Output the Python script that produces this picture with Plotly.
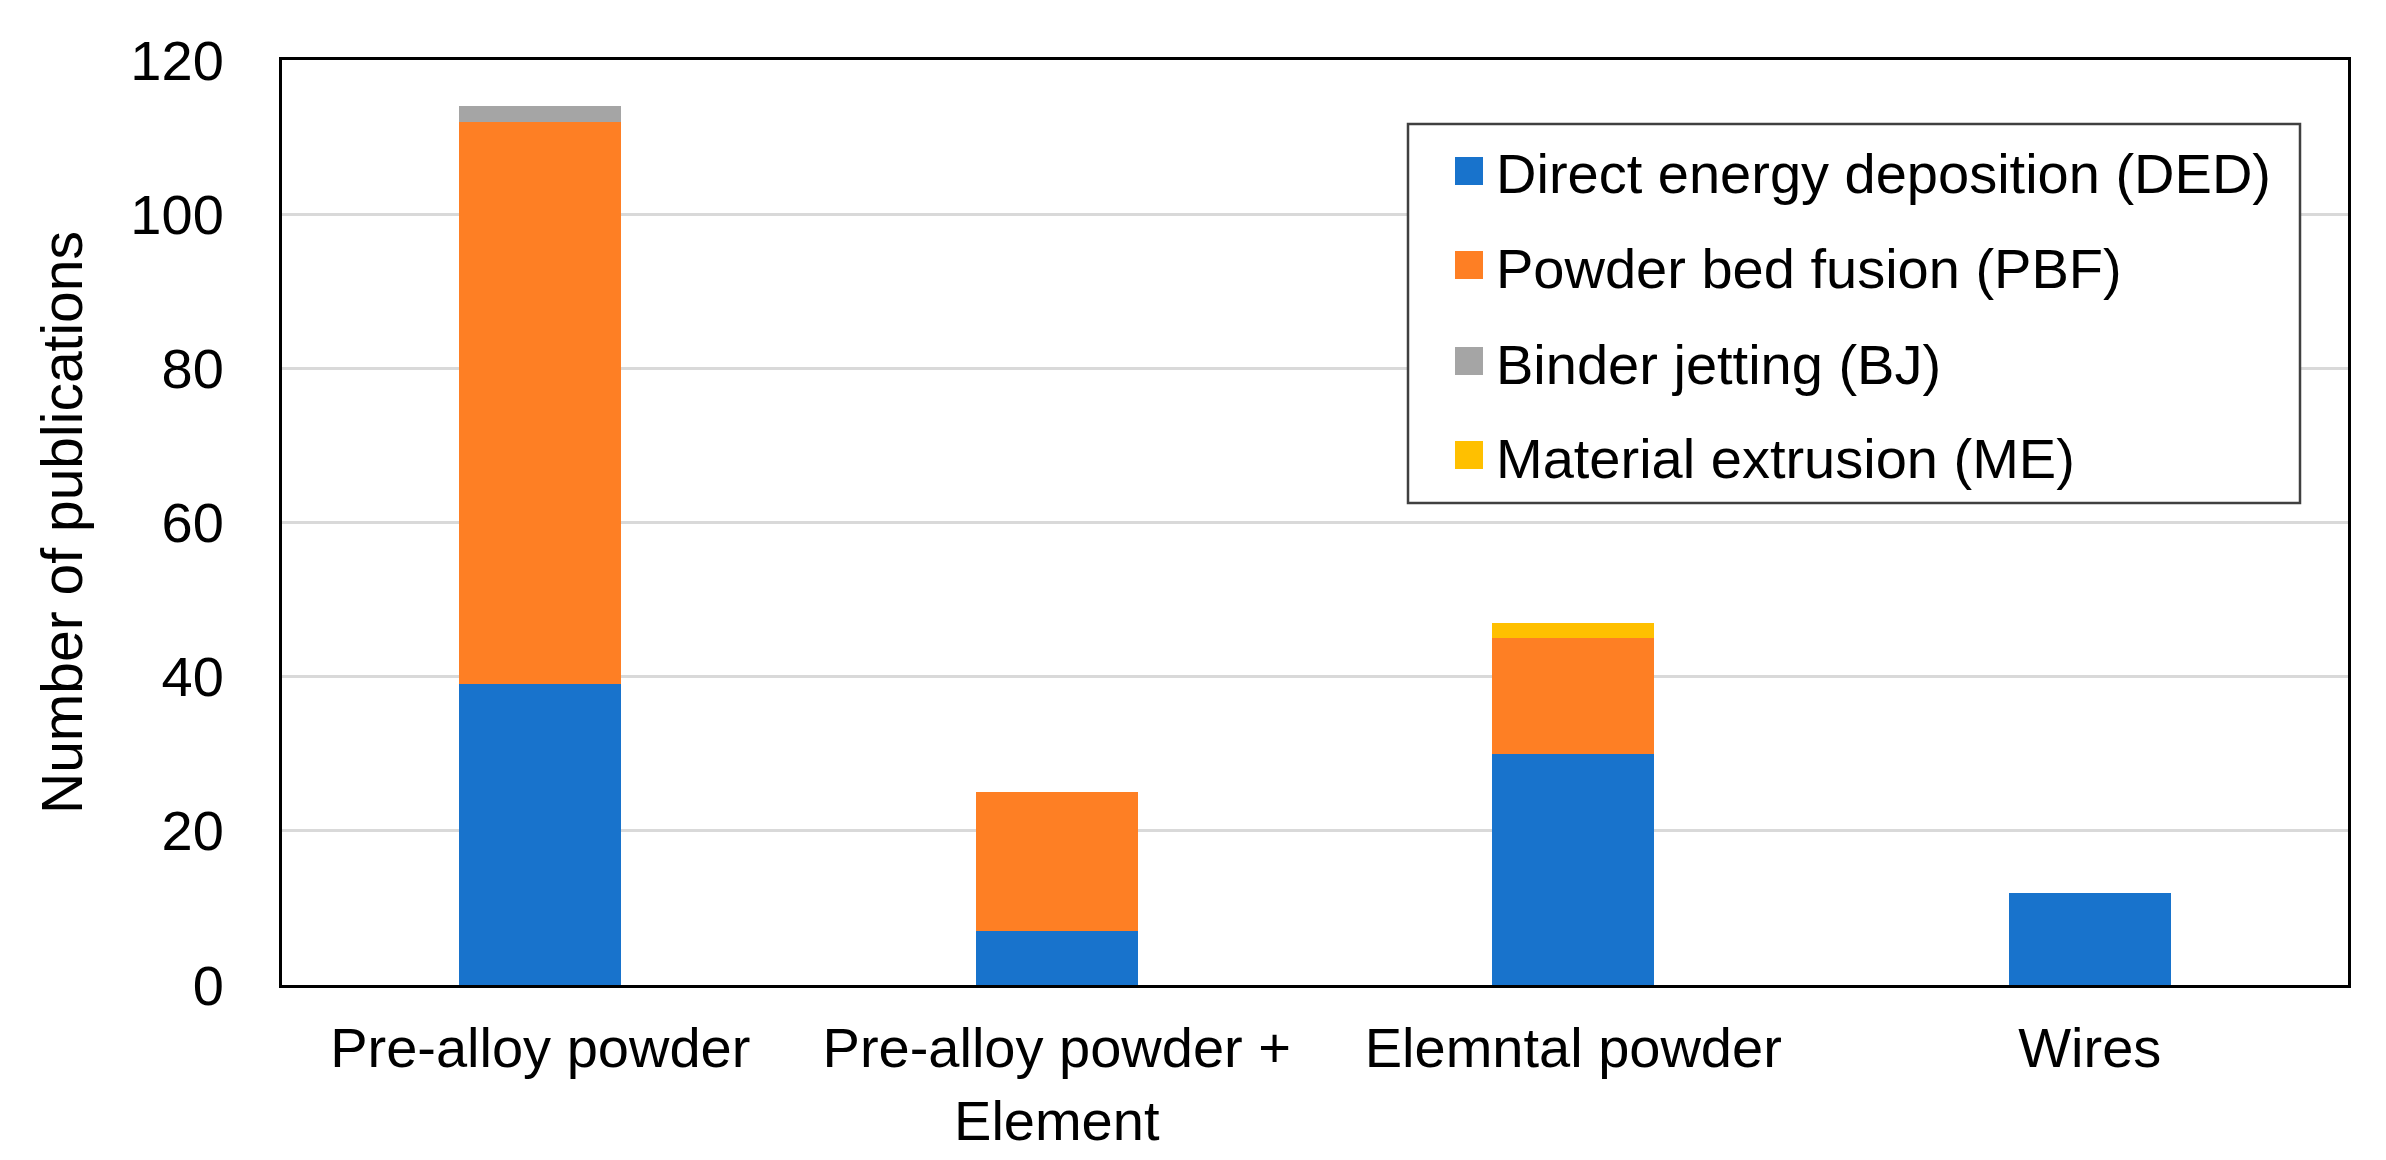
import plotly.graph_objects as go

categories = ["Pre-alloy powder", "Pre-alloy powder +<br>Element", "Elemntal powder", "Wires"]
series_names = ["Direct energy deposition (DED)", "Powder bed fusion (PBF)",
                "Binder jetting (BJ)", "Material extrusion (ME)"]
ded = [39, 7, 30, 12]
pbf = [73, 18, 15, 0]
bj = [2, 0, 0, 0]
me = [0, 0, 2, 0]
colors = ["#1873CC", "#FE7F24", "#A5A5A5", "#FFC000"]
y_ticks = [0, 20, 40, 60, 80, 100, 120]

W, H = 2386, 1160
L, R, T, B = 274, 46, 52, 183
PW, PH = W - L - R, H - T - B
FONT = "Arial, Liberation Sans, sans-serif"
FS = 56


def px_x(p):
    return (p - L) / PW


def px_y(p):
    return (H - B - p) / PH


fig = go.Figure()
for name, vals, col in zip(series_names, [ded, pbf, bj, me], colors):
    fig.add_trace(go.Bar(x=categories, y=vals, name=name,
                         marker=dict(color=col, line=dict(width=0)),
                         showlegend=False))

# legend drawn as shapes + text to match the large square symbols
shapes = [dict(type="rect", xref="paper", yref="paper",
               x0=px_x(1400), x1=px_x(2292), y0=px_y(495), y1=px_y(116),
               line=dict(color="#404040", width=2.5), fillcolor="white", layer="above")]
annotations = []
row_y = [163, 257, 353, 447]
for name, col, ry in zip(series_names, colors, row_y):
    shapes.append(dict(type="rect", xref="paper", yref="paper",
                       x0=px_x(1447), x1=px_x(1475), y0=px_y(ry + 14), y1=px_y(ry - 14),
                       line=dict(width=0), fillcolor=col, layer="above"))
    annotations.append(dict(xref="paper", yref="paper", x=px_x(1486), y=px_y(ry + 3),
                            text=name, showarrow=False, xanchor="left", yanchor="middle",
                            font=dict(family=FONT, size=FS, color="black")))

fig.update_layout(
    width=W, height=H,
    margin=dict(l=L, r=R, t=T, b=B, autoexpand=False),
    barmode="stack", bargap=0.686,
    plot_bgcolor="white", paper_bgcolor="white",
    font=dict(family=FONT, size=FS, color="black"),
    shapes=shapes, annotations=annotations,
    showlegend=False,
)
fig.update_xaxes(showline=True, linecolor="black", linewidth=3, mirror=True,
                 showgrid=False, ticks="", ticklabelstandoff=12,
                 tickfont=dict(family=FONT, size=FS, color="black"))
fig.update_yaxes(range=[0, 120], tickvals=y_ticks, showline=True, linecolor="black",
                 linewidth=3, mirror=True, showgrid=True, gridcolor="#D9D9D9", gridwidth=3,
                 zeroline=False, ticks="", ticklabelstandoff=44,
                 tickfont=dict(family=FONT, size=FS, color="black"),
                 title=dict(text="Number of publications", standoff=30,
                            font=dict(family=FONT, size=57, color="black")))

fig.write_html("out.html")
